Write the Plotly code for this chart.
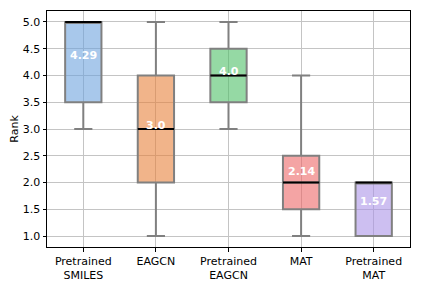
import plotly.graph_objects as go

categories = ["Pretrained<br>SMILES", "EAGCN", "Pretrained<br>EAGCN", "MAT", "Pretrained<br>MAT"]
lower = [3.0, 1.0, 3.0, 1.0, 1.0]
q1 = [3.5, 2.0, 3.5, 1.5, 1.0]
median = [5.0, 3.0, 4.0, 2.0, 2.0]
q3 = [5.0, 4.0, 4.5, 2.5, 2.0]
upper = [5.0, 5.0, 5.0, 4.0, 2.0]
means = [4.29, 3.0, 4.0, 2.14, 1.57]
mean_labels = ["4.29", "3.0", "4.0", "2.14", "1.57"]
colors = ["rgba(110,163,222,0.6)", "rgba(232,130,60,0.6)", "rgba(78,192,103,0.6)",
          "rgba(236,103,103,0.6)", "rgba(172,148,232,0.6)"]

BOX_W = 0.5
fig = go.Figure()
for i in range(len(categories)):
    fig.add_trace(go.Box(
        x=[i], q1=[q1[i]], median=[median[i]], q3=[q3[i]],
        lowerfence=[lower[i]], upperfence=[upper[i]],
        width=BOX_W, whiskerwidth=0.5, fillcolor=colors[i],
        line=dict(color="#808080", width=2), showlegend=False,
        hoverinfo="skip", boxpoints=False,
    ))
    fig.add_trace(go.Scatter(
        x=[i - BOX_W / 2, i + BOX_W / 2], y=[median[i], median[i]],
        mode="lines", line=dict(color="black", width=2),
        showlegend=False, hoverinfo="skip",
    ))
    fig.add_annotation(
        x=i, y=means[i], text="<b>" + mean_labels[i] + "</b>",
        showarrow=False, yanchor="middle", yshift=4,
        font=dict(family="DejaVu Sans", size=11, color="white"),
    )

axis_common = dict(
    showline=True, linecolor="black", linewidth=1, mirror=True,
    ticks="outside", ticklen=3.5, tickcolor="black", tickwidth=1,
    showgrid=True, gridcolor="#c4c4c4", gridwidth=1, zeroline=False,
    automargin=False,
    tickfont=dict(family="DejaVu Sans", size=11, color="black"),
)
# page body has an 8px default margin, so size the figure to fit the window
fig.update_layout(
    width=413, height=277,
    margin=dict(l=39, r=11, t=3, b=38),
    plot_bgcolor="white", paper_bgcolor="white",
    xaxis=dict(range=[-0.5, 4.5], tickvals=list(range(len(categories))),
               ticktext=categories, **axis_common),
    yaxis=dict(range=[0.795, 5.205], tickvals=[1.0, 1.5, 2.0, 2.5, 3.0, 3.5, 4.0, 4.5, 5.0],
               tickformat=".1f",
               title=dict(text="Rank", font=dict(family="DejaVu Sans", size=11, color="black"), standoff=6),
               **axis_common),
)
fig.write_html("out.html")
